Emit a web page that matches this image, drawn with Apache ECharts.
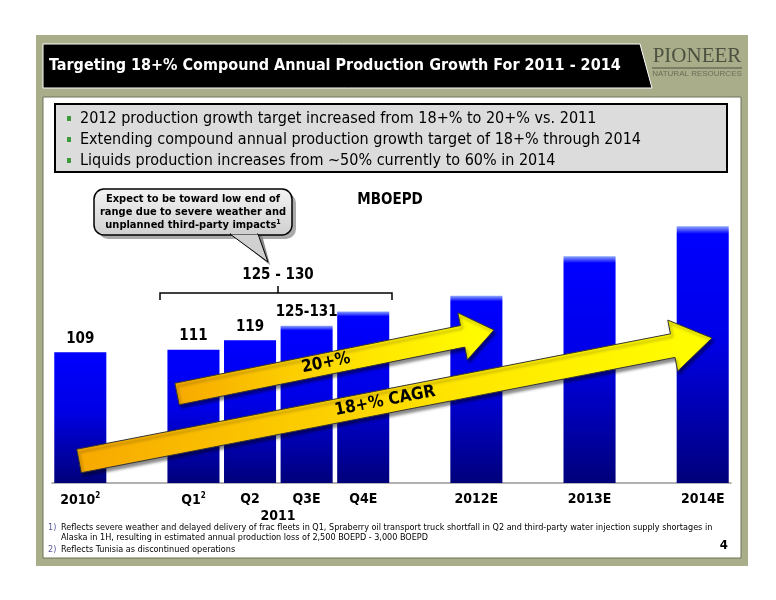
<!DOCTYPE html>
<html><head><meta charset="utf-8">
<script src="https://cdn.jsdelivr.net/npm/echarts@6/dist/echarts.min.js"></script>
<style>html,body{margin:0;padding:0;background:#fff}#c{width:776px;height:600px}</style>
</head><body><div id="c"></div>
<script>
const categories = ['2010{s|2}', '', 'Q1{s|2}', 'Q2', 'Q3E', 'Q4E', '', '2012E', '', '2013E', '', '2014E'];
const barValues = [109, null, 111, 119, 131, 143, null, 156, null, 189, null, 214];
const barLabels = ['109', '', '111', '119', '125-131', '', '', '', '', '', '', ''];
const estimated = [false, false, false, false, true, true, false, true, false, true, false, true];
const bullets = [
  '2012 production growth target increased from 18+% to 20+% vs. 2011',
  'Extending compound annual production growth target of 18+% through 2014',
  'Liquids production increases from ~50% currently to 60% in 2014'
];
const footnotes = [
  'Reflects severe weather and delayed delivery of frac fleets in Q1, Spraberry oil transport truck shortfall in Q2 and third-party water injection supply shortages in',
  'Alaska in 1H, resulting in estimated annual production loss of 2,500 BOEPD - 3,000 BOEPD',
  'Reflects Tunisia as discontinued operations'
];
const FONT = 'DejaVu Sans Condensed';

function arrow(x1, y1, x2, y2, sw, hw, hl) {
  const dx = x2 - x1, dy = y2 - y1, L = Math.hypot(dx, dy);
  const ux = dx / L, uy = dy / L, nx = -uy, ny = ux;
  const bx = x2 - ux * hl, by = y2 - uy * hl;
  return [
    [x1 + nx * sw / 2, y1 + ny * sw / 2], [bx + nx * sw / 2, by + ny * sw / 2],
    [bx + nx * hw / 2, by + ny * hw / 2], [x2, y2],
    [bx - nx * hw / 2, by - ny * hw / 2], [bx - nx * sw / 2, by - ny * sw / 2],
    [x1 - nx * sw / 2, y1 - ny * sw / 2]
  ];
}
const arrowFill = {type: 'linear', x: 0, y: 1, x2: 1, y2: 0, colorStops: [{offset: 0, color: '#f7a800'}, {offset: 0.6, color: '#ffe600'}, {offset: 1, color: '#ffff00'}]};
const shadow = {shadowBlur: 3, shadowColor: 'rgba(0,0,0,0.45)', shadowOffsetX: 2, shadowOffsetY: 3};

const chart = echarts.init(document.getElementById('c'));
const g = [];
g.push({type: 'rect', shape: {x: 36, y: 35, width: 712, height: 531}, style: {fill: '#a9ad8a'}, z: -10});
g.push({type: 'rect', shape: {x: 43, y: 97, width: 698, height: 461}, style: {fill: '#fff', stroke: '#6f7359', lineWidth: 1}, z: -9});
g.push({type: 'polygon', shape: {points: [[43, 44], [640, 44], [652, 88], [43, 88]]}, style: {fill: '#000', stroke: '#fff', lineWidth: 1}, z: -8});
g.push({type: 'text', x: 49, y: 66, style: {text: 'Targeting 18+% Compound Annual Production Growth For 2011 - 2014', fill: '#fff', font: 'bold 16px ' + FONT, verticalAlign: 'middle'}});
g.push({type: 'text', x: 697, y: 56, style: {text: 'PIONEER', fill: '#4d5240', font: '21px "Liberation Serif"', align: 'center', verticalAlign: 'middle'}});
g.push({type: 'line', shape: {x1: 652, y1: 68, x2: 742, y2: 68}, style: {stroke: '#4d5240', lineWidth: 1}});
g.push({type: 'text', x: 697, y: 74, style: {text: 'NATURAL RESOURCES', fill: '#6a6e5a', font: '8px "Liberation Sans"', align: 'center', verticalAlign: 'middle'}});
g.push({type: 'rect', shape: {x: 55, y: 104, width: 672, height: 68}, style: {fill: '#dcdcdc', stroke: '#000', lineWidth: 2}, z: -5});
bullets.forEach((b, i) => {
  g.push({type: 'rect', shape: {x: 67, y: 116 + i * 21, width: 4, height: 5}, style: {fill: '#3c9a3c'}});
  g.push({type: 'text', x: 80, y: 119 + i * 21, style: {text: b, fill: '#000', font: '16px ' + FONT, verticalAlign: 'middle'}});
});
g.push({type: 'rect', shape: {x: 98, y: 193, width: 198, height: 46, r: 10}, style: {fill: '#aaa'}, z: 1});
g.push({type: 'polygon', shape: {points: [[232, 235], [270, 265], [262, 235]]}, style: {fill: '#888'}, z: 1});
g.push({type: 'rect', shape: {x: 94, y: 189, width: 198, height: 46, r: 10}, style: {fill: {type: 'linear', x: 0, y: 0, x2: 0, y2: 1, colorStops: [{offset: 0, color: '#f4f4f4'}, {offset: 1, color: '#cfcfcf'}]}, stroke: '#000', lineWidth: 1.5}, z: 2});
g.push({type: 'polygon', shape: {points: [[230, 234], [268, 262], [258, 234]]}, style: {fill: '#d0d0d0', stroke: '#000', lineWidth: 1}, z: 2});
g.push({type: 'rect', shape: {x: 231, y: 230, width: 26, height: 4}, style: {fill: '#d0d0d0'}, z: 3});
g.push({type: 'text', x: 193, y: 212, z: 4, style: {text: 'Expect to be toward low end of\nrange due to severe weather and\nunplanned third-party impacts{s|1}', rich: {s: {font: 'bold 7px ' + FONT, verticalAlign: 'top', padding: [0, 0, 6, 0]}}, fill: '#000', font: 'bold 11px ' + FONT, lineHeight: 13, align: 'center', verticalAlign: 'middle'}});
g.push({type: 'text', x: 390, y: 200, style: {text: 'MBOEPD', fill: '#000', font: 'bold 15px ' + FONT, align: 'center', verticalAlign: 'middle'}});
g.push({type: 'polyline', shape: {points: [[160, 300], [160, 293], [392, 293], [392, 300]]}, style: {stroke: '#000', lineWidth: 1.5, fill: null}});
g.push({type: 'line', shape: {x1: 278, y1: 293, x2: 278, y2: 286}, style: {stroke: '#000', lineWidth: 1.5}});
g.push({type: 'text', x: 278, y: 275, style: {text: '125 - 130', fill: '#000', font: 'bold 15px ' + FONT, align: 'center', verticalAlign: 'middle'}});
g.push({type: 'polygon', shape: {points: arrow(177, 394, 494, 330, 22, 48, 32)}, style: Object.assign({fill: arrowFill, stroke: '#333', lineWidth: 1}, shadow), z: 20});
g.push({type: 'text', x: 326, y: 363, rotation: 0.2, z: 21, style: {text: '20+%', fill: '#000', font: 'bold 17px ' + FONT, align: 'center', verticalAlign: 'middle'}});
g.push({type: 'polygon', shape: {points: arrow(79, 461, 712, 338, 24, 52, 40)}, style: Object.assign({fill: arrowFill, stroke: '#333', lineWidth: 1}, shadow), z: 20});
g.push({type: 'text', x: 385, y: 401, rotation: 0.19, z: 21, style: {text: '18+% CAGR', fill: '#000', font: 'bold 17px ' + FONT, align: 'center', verticalAlign: 'middle'}});
g.push({type: 'text', x: 278, y: 516, style: {text: '2011', fill: '#000', font: 'bold 14px ' + FONT, align: 'center', verticalAlign: 'middle'}});
const fn = [['1)', footnotes[0], 528], ['', footnotes[1], 538], ['2)', footnotes[2], 550]];
fn.forEach(f => {
  if (f[0]) g.push({type: 'text', x: 48, y: f[2], style: {text: f[0], fill: '#5a5a9a', font: '9px ' + FONT, verticalAlign: 'middle'}});
  g.push({type: 'text', x: 61, y: f[2], style: {text: f[1], fill: '#000', font: '9px ' + FONT, verticalAlign: 'middle'}});
});
g.push({type: 'text', x: 728, y: 546, style: {text: '4', fill: '#000', font: 'bold 13px ' + FONT, align: 'right', verticalAlign: 'middle'}});

chart.setOption({
  animation: false,
  grid: {left: 52, right: 45, top: 183, bottom: 117},
  xAxis: {type: 'category', data: categories,
    axisLine: {lineStyle: {color: '#999', width: 1.5}}, axisTick: {lineStyle: {color: '#999'}, length: 5},
    axisLabel: {color: '#000', fontFamily: FONT, fontWeight: 'bold', fontSize: 14, interval: 0, margin: 9,
      rich: {s: {fontSize: 8, fontWeight: 'bold', fontFamily: FONT, verticalAlign: 'top', padding: [0, 0, 8, 0]}}}},
  yAxis: {type: 'value', min: 0, max: 250, show: false},
  series: [{type: 'bar', barCategoryGap: '8%',
    data: barValues.map((v, i) => ({value: v, itemStyle: {color: {type: 'linear', x: 0, y: 0, x2: 0, y2: 1, colorStops: estimated[i] ?
      [{offset: 0, color: '#8fa8ff'}, {offset: 0.03, color: '#0000ff'}, {offset: 0.45, color: '#0000e6'}, {offset: 1, color: '#00007a'}] :
      [{offset: 0, color: '#0000ff'}, {offset: 0.45, color: '#0000e6'}, {offset: 1, color: '#00007a'}]}}})),
    label: {show: true, position: 'top', distance: 6, color: '#000', fontFamily: FONT, fontWeight: 'bold', fontSize: 15,
      formatter: p => barLabels[p.dataIndex]}, z: 5}],
  graphic: g
});
</script></body></html>
